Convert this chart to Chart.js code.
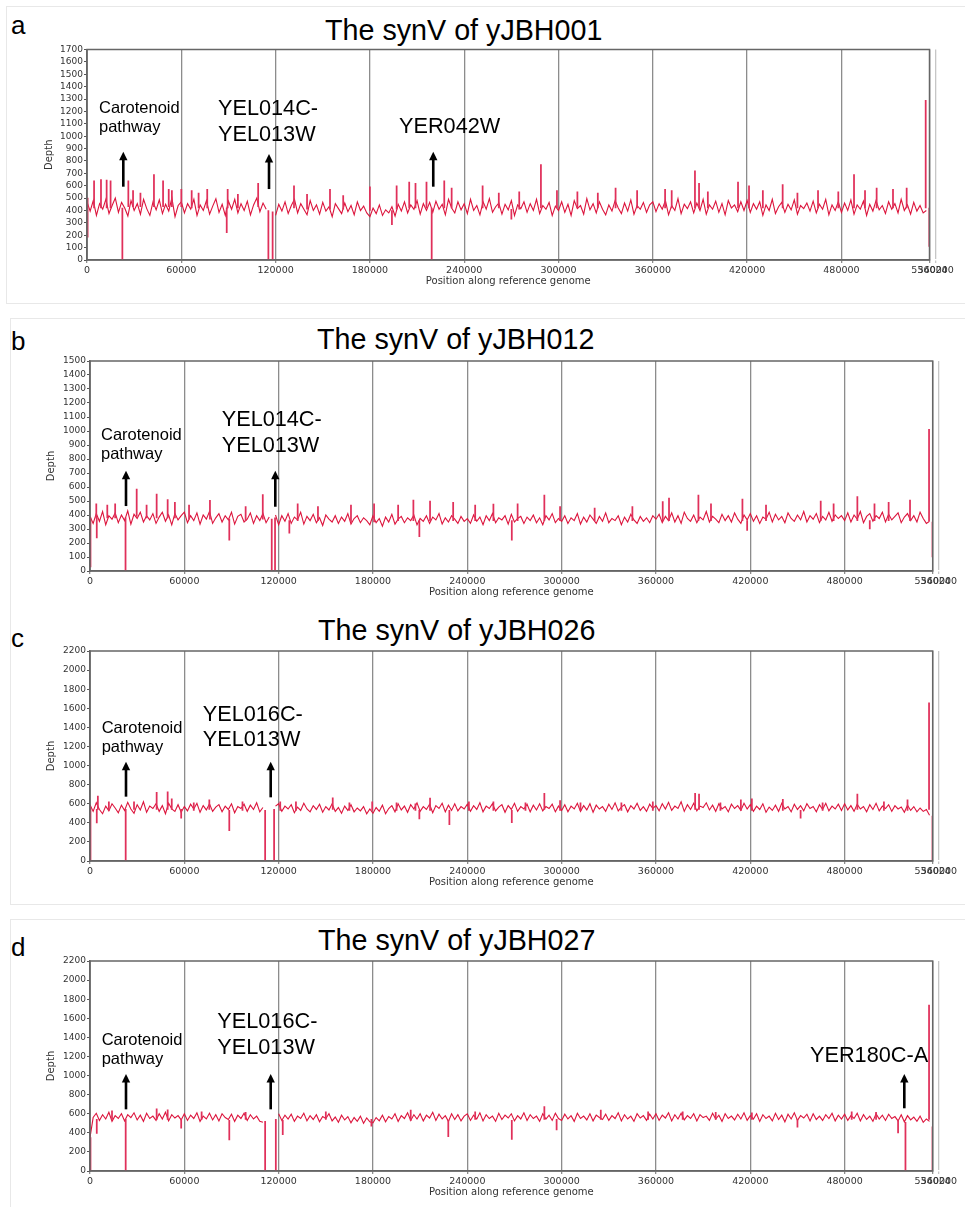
<!DOCTYPE html>
<html>
<head>
<meta charset="utf-8">
<script src="https://cdn.jsdelivr.net/npm/chart.js@4.4.1/dist/chart.umd.min.js"></script>
<style>
  body { margin: 0; background: #fff; width: 965px; height: 1207px; position: relative; overflow: hidden; font-family: 'Liberation Sans', Arial, sans-serif; }
  .box { position: absolute; border: 1px solid #e8e8e8; }
  .txt { position: absolute; line-height: 1; white-space: nowrap; color: #000; }
  .ttl { font-size: 28.7px; }
  .let { font-size: 26px; }
  canvas { position: absolute; left: 0; }
</style>
</head>
<body>
<div class="box" style="left:6px;top:6px;width:980px;height:296px"></div>
<div class="box" style="left:10px;top:318px;width:980px;height:585px"></div>
<div class="box" style="left:10px;top:919px;width:980px;height:300px"></div>

<div class="txt let" style="left:11px;top:12px">a</div>
<div class="txt let" style="left:11px;top:328px">b</div>
<div class="txt let" style="left:11px;top:625px">c</div>
<div class="txt let" style="left:11px;top:934px">d</div>

<div class="txt ttl" style="left:325px;top:16px">The synV of yJBH001</div>
<div class="txt ttl" style="left:317px;top:325px">The synV of yJBH012</div>
<div class="txt ttl" style="left:318px;top:616px">The synV of yJBH026</div>
<div class="txt ttl" style="left:318px;top:926px">The synV of yJBH027</div>

<canvas id="chartA" width="965" height="252" style="top:40px"></canvas>
<canvas id="chartB" width="965" height="252" style="top:351px"></canvas>
<canvas id="chartC" width="965" height="252" style="top:641px"></canvas>
<canvas id="chartD" width="965" height="252" style="top:951px"></canvas>

<script>
// depth read every 2000 bp along synV (null = deleted region), 30 values per 60 kb
const STEP = 2000;
const chrLen = 536024;
const xTicks = [0, 60000, 120000, 180000, 240000, 300000, 360000, 420000, 480000, 536024, 540000];

const depthA = [
  470,395,480,360,455,410,490,375,440,500,
  385,465,420,355,480,400,455,370,490,415,
  360,470,405,485,375,450,395,500,350,440,
  470,380,455,410,490,360,445,400,480,370,
  435,495,385,450,360,475,410,490,380,455,
  400,475,365,445,500,390,460,410,null,null,
  360,450,395,470,375,440,490,380,455,410,
  365,480,400,445,370,465,395,430,350,455,
  415,375,460,390,440,365,470,400,435,380,
  350,420,375,445,360,405,380,430,355,450,
  395,470,380,445,410,480,370,455,400,465,
  385,475,410,450,365,490,420,380,470,405,
  455,375,490,400,440,365,470,410,495,385,
  430,460,370,450,405,480,360,445,415,470,
  385,455,400,490,375,440,410,465,360,435,
  400,470,385,450,360,480,415,440,370,495,
  405,455,380,470,410,365,445,395,480,420,
  375,460,395,485,370,440,410,465,385,445,
  470,390,455,410,480,365,440,400,495,375,
  450,415,470,380,460,400,490,370,445,410,
  475,385,455,365,480,420,445,390,470,400,
  480,385,455,410,470,360,445,400,490,375,
  430,465,385,450,405,485,370,440,415,460,
  395,475,380,450,410,490,365,445,400,470,
  385,460,400,485,370,445,410,475,360,450,
  395,480,405,440,375,470,410,455,380,490,
  400,445,370,465,395,440,380,400
];
const depthB = [
  390,340,410,355,425,330,395,370,415,345,
  400,360,430,335,405,375,420,350,395,365,
  410,340,385,420,355,400,330,410,365,395,
  420,345,395,360,415,335,400,370,425,340,
  380,410,350,395,365,420,335,390,405,350,
  370,415,340,395,360,410,345,385,null,400,
  330,395,355,410,340,385,365,420,335,390,
  360,405,345,380,325,400,370,350,395,340,
  385,355,410,335,375,395,345,380,360,330,
  395,345,375,320,385,350,405,335,370,390,
  345,380,360,400,330,375,355,395,340,385,
  365,410,335,380,350,395,370,340,390,355,
  375,340,400,355,385,330,395,360,410,345,
  380,365,395,335,405,350,375,390,340,385,
  360,400,345,380,330,395,365,410,345,375,
  355,395,340,380,360,410,335,385,350,400,
  370,340,390,355,415,345,375,360,395,330,
  385,350,405,365,340,390,355,380,345,395,
  370,405,345,390,360,415,350,395,340,420,
  375,355,400,345,385,365,425,350,390,370,
  345,405,360,395,350,415,370,340,400,365,
  410,355,395,340,385,370,420,350,405,365,
  390,345,415,375,355,400,365,425,350,395,
  370,410,345,390,365,420,355,400,375,395,
  360,415,350,400,370,425,345,390,410,355,
  395,375,420,350,405,365,390,415,345,385,
  410,360,395,350,420,375,340,355
];
const depthC = [
  590,520,610,540,495,575,525,600,555,505,
  585,530,615,545,500,590,535,620,510,575,
  550,600,520,580,495,605,545,520,590,510,
  570,525,595,545,605,510,580,535,600,520,
  565,590,515,575,540,600,505,570,550,595,
  520,585,540,610,515,560,null,null,null,575,
  600,520,575,545,590,505,565,530,605,545,
  515,580,540,595,510,570,535,600,520,560,
  500,575,530,590,515,555,525,570,495,545,
  500,560,520,585,495,550,580,515,600,535,
  575,510,590,545,610,520,570,540,595,505,
  580,550,605,515,585,530,600,525,570,545,
  595,520,580,540,610,515,575,550,600,525,
  565,590,510,580,540,605,520,570,545,595,
  515,585,535,600,525,570,550,595,515,575,
  530,590,515,575,545,605,520,580,535,600,
  510,585,545,570,520,595,540,610,525,565,
  590,515,580,545,605,530,570,520,595,550,
  580,525,600,545,615,530,575,550,620,520,
  590,540,605,525,575,560,610,535,585,520,
  600,545,570,515,595,550,580,530,605,545,
  590,520,575,540,600,510,565,530,585,520,
  605,545,570,515,595,540,580,525,600,550,
  570,515,590,540,605,525,575,545,595,530,
  600,535,580,520,595,545,570,515,590,540,
  605,525,575,550,590,520,580,545,565,510,
  585,530,570,515,555,520,540,480
];
const depthD = [
  350,560,605,530,590,545,615,520,580,550,
  600,525,590,560,610,535,585,520,605,550,
  575,530,600,545,615,525,590,555,580,535,
  600,530,585,550,610,520,575,545,605,535,
  590,525,600,560,540,595,520,585,550,605,
  530,590,545,575,520,510,null,null,null,null,
  600,530,585,545,595,520,575,550,605,525,
  580,540,590,515,570,550,600,525,565,510,
  585,535,570,505,560,520,575,500,555,515,
  505,560,525,585,515,570,545,600,520,580,
  550,610,530,590,545,600,525,585,555,615,
  530,595,545,580,520,600,540,590,525,575,
  600,530,585,545,610,525,590,550,575,520,
  605,540,585,555,600,525,580,545,610,530,
  590,550,575,520,600,545,585,530,605,550,
  530,595,545,580,520,605,550,575,535,600,
  525,585,560,540,595,530,580,550,610,525,
  590,545,575,520,600,555,580,530,595,545,
  600,530,585,555,610,525,590,545,605,535,
  580,550,600,525,590,560,575,530,605,545,
  585,520,600,550,575,535,595,545,610,530,
  580,545,600,520,590,550,575,525,605,540,
  585,515,595,545,610,530,580,555,595,525,
  600,540,575,530,590,550,605,525,585,545,
  595,530,580,550,605,525,590,540,575,520,
  600,545,585,530,595,550,570,525,590,515,
  580,535,565,520,575,510,545,520
];

// narrow spikes and dips: [position, low depth, high depth]
const spikesA = [
  [400, 185, 500], [4500, 420, 640], [8900, 420, 650], [12500, 420, 645], [15000, 420, 640],
  [22500, 0, 420], [26300, 430, 640], [29300, 430, 560], [34000, 430, 540], [42600, 430, 690],
  [48400, 430, 640], [52000, 430, 570], [54000, 430, 560], [60000, 430, 570], [66600, 420, 560],
  [71000, 420, 540], [76500, 420, 570], [88900, 220, 420], [89500, 420, 570], [96000, 420, 530],
  [108900, 430, 620], [115400, 0, 400], [118100, 0, 390], [131700, 420, 600], [140000, 410, 530],
  [154600, 410, 570], [163000, 410, 520], [180000, 400, 590], [194000, 285, 400], [197000, 410, 600],
  [205000, 420, 630], [209000, 420, 620], [216000, 420, 630], [219300, 0, 420], [227300, 420, 640],
  [232000, 420, 580], [251700, 420, 600], [262000, 420, 540], [270000, 330, 410], [275000, 410, 550],
  [288800, 420, 770], [299000, 420, 560], [312000, 420, 550], [325000, 420, 540], [336300, 420, 580],
  [350000, 420, 560], [367800, 420, 570], [372000, 420, 560], [386800, 420, 720], [389400, 420, 620],
  [395000, 420, 550], [414200, 420, 630], [421200, 420, 600], [430000, 420, 560], [442600, 420, 610],
  [452000, 420, 540], [465100, 420, 560], [478000, 420, 550], [488000, 420, 690], [495000, 420, 560],
  [502400, 420, 580], [512800, 420, 570], [521500, 420, 580], [533600, 420, 1290], [535900, 110, 420]
];
const spikesB = [
  [300, 30, 380], [4000, 380, 480], [4300, 236, 380], [11000, 380, 470], [16000, 380, 480],
  [22600, 0, 380], [29700, 390, 585], [36000, 380, 470], [42400, 380, 550], [49400, 380, 510],
  [54000, 380, 490], [63000, 370, 470], [76300, 370, 505], [88600, 221, 370], [99000, 360, 460],
  [109900, 370, 545], [115600, 0, 370], [117700, 0, 380], [126800, 270, 360], [132100, 360, 480],
  [145000, 360, 460], [166000, 350, 470], [180700, 350, 480], [196000, 360, 470], [205700, 360, 507],
  [209500, 245, 360], [216300, 360, 500], [231000, 360, 490], [245000, 360, 470], [256600, 360, 478],
  [268300, 221, 360], [272000, 360, 480], [289000, 360, 543], [299000, 360, 460], [321000, 360, 450],
  [345000, 360, 460], [364300, 360, 495], [368300, 360, 520], [387000, 360, 543], [395000, 360, 480],
  [415000, 360, 514], [418000, 290, 360], [430000, 360, 470], [464800, 360, 500], [473000, 360, 480],
  [488100, 360, 531], [496000, 300, 360], [499000, 360, 480], [508000, 360, 490], [521600, 360, 507],
  [533700, 360, 1012], [535900, 100, 350]
];
const spikesC = [
  [300, 0, 560], [4300, 398, 540], [5000, 540, 681], [12000, 530, 620], [22700, 0, 540],
  [28000, 540, 620], [42400, 540, 720], [49400, 540, 725], [52000, 540, 650], [58000, 450, 540],
  [66000, 530, 610], [75900, 540, 640], [88600, 317, 530], [97000, 530, 620], [111400, 0, 530],
  [117100, 0, 540], [121000, 530, 620], [131000, 530, 620], [154400, 540, 663], [165000, 530, 610],
  [179500, 530, 620], [195000, 530, 610], [207000, 530, 600], [209500, 440, 530], [216300, 530, 660],
  [228600, 380, 530], [241000, 530, 620], [256600, 530, 620], [268300, 401, 530], [277000, 530, 610],
  [289000, 540, 709], [299000, 530, 632], [312000, 530, 610], [338000, 530, 610], [358000, 530, 620],
  [384900, 540, 709], [387400, 540, 700], [401000, 530, 610], [414000, 530, 640], [421000, 530, 650],
  [440700, 530, 646], [452000, 450, 530], [466000, 530, 610], [488100, 540, 702], [505000, 530, 620],
  [520000, 530, 640], [533700, 540, 1658], [535900, 0, 470]
];
const spikesD = [
  [300, 0, 350], [4300, 395, 540], [14000, 540, 630], [22700, 0, 540], [42400, 540, 650],
  [49400, 540, 640], [58000, 450, 540], [71000, 540, 620], [88600, 325, 530], [99000, 540, 615],
  [111400, 0, 520], [118200, 0, 540], [122600, 380, 530], [150000, 540, 620], [179000, 470, 540],
  [204000, 530, 639], [227900, 360, 530], [245000, 540, 620], [268300, 332, 530], [289000, 540, 674],
  [296800, 430, 540], [324900, 540, 639], [355000, 540, 620], [377000, 540, 620], [398000, 540, 615],
  [421000, 540, 610], [450000, 460, 540], [484500, 540, 620], [500000, 540, 615], [514000, 398, 530],
  [518700, 0, 510], [533700, 540, 1739], [535900, 0, 464]
];

// gene labels and arrows, in genome position / depth units
const labelsA = [
  {lines: ['Carotenoid', 'pathway'], x: 7630, y: 1190, big: false},
  {lines: ['YEL014C-', 'YEL013W'], x: 83340, y: 1171, big: true},
  {lines: ['YER042W'], x: 198500, y: 1023, big: true}
];
const arrowsA = [[23100, 592, 875], [115800, 573, 856], [220300, 592, 875]];
const labelsB = [
  {lines: ['Carotenoid', 'pathway'], x: 7000, y: 936, big: false},
  {lines: ['YEL014C-', 'YEL013W'], x: 83770, y: 1036, big: true}
];
const arrowsB = [[22900, 464, 716], [117870, 459, 716]];
const labelsC = [
  {lines: ['Carotenoid', 'pathway'], x: 7440, y: 1338, big: false},
  {lines: ['YEL016C-', 'YEL013W'], x: 71690, y: 1470, big: true}
];
const arrowsC = [[22900, 674, 1040], [114940, 667, 1040]];
const labelsD = [
  {lines: ['Carotenoid', 'pathway'], x: 7440, y: 1320, big: false},
  {lines: ['YEL016C-', 'YEL013W'], x: 80975, y: 1495, big: true},
  {lines: ['YER180C-A'], x: 457990, y: 1145, big: true}
];
const arrowsD = [[22900, 646, 1016], [114940, 646, 1016], [517970, 657, 1016]];

Chart.defaults.font.family = "'DejaVu Sans', sans-serif";
Chart.defaults.color = '#333';

function drawNotes(chart, labels, arrows) {
    const ctx = chart.ctx;
    const x = chart.scales.x, y = chart.scales.y;
    const area = chart.chartArea;
    ctx.save();
    // plot frame
    ctx.strokeStyle = '#666';
    ctx.lineWidth = 1.5;
    ctx.strokeRect(area.left, area.top, area.right - area.left, area.bottom - area.top);

    ctx.fillStyle = '#000';
    ctx.strokeStyle = '#000';
    ctx.textBaseline = 'alphabetic';
    labels.forEach(l => {
        let size = l.big ? 21.7 : 16.5;
        let lead = l.big ? 25.7 : 19;
        ctx.font = size + 'px "Liberation Sans", Arial, sans-serif';
        let px = x.getPixelForValue(l.x), py = y.getPixelForValue(l.y);
        l.lines.forEach((t, i) => ctx.fillText(t, px, py + i * lead));
    });
    arrows.forEach(a => {
        let px = x.getPixelForValue(a[0]);
        let yb = y.getPixelForValue(a[1]);
        let yt = y.getPixelForValue(a[2]);
        ctx.lineWidth = 2.6;
        ctx.beginPath();
        ctx.moveTo(px, yb);
        ctx.lineTo(px, yt + 6);
        ctx.stroke();
        ctx.beginPath();
        ctx.moveTo(px, yt);
        ctx.lineTo(px - 4.2, yt + 8.5);
        ctx.lineTo(px + 4.2, yt + 8.5);
        ctx.closePath();
        ctx.fill();
    });
    ctx.restore();
}

function depthChart(id, depth, spikes, yMax, yStep, labels, arrows, geo) {
    let line = depth.map((d, i) => ({x: i * STEP, y: d}));
    let needles = spikes.map(s => ({x: s[0], y: [s[1], s[2]]}));

    return new Chart(document.getElementById(id), {
        type: 'line',
        data: {
            datasets: [
                {type: 'bar', data: needles, backgroundColor: '#e0305a', barThickness: 1.1},
                {data: line, borderColor: 'rgb(220, 20, 60)', borderWidth: 1.1, pointRadius: 0, spanGaps: false, tension: 0}
            ]
        },
        options: {
            responsive: false,
            animation: false,
            events: [],
            layout: {padding: {top: geo.padTop, right: geo.padRight, left: 0, bottom: 0}},
            plugins: {legend: {display: false}, tooltip: {enabled: false}},
            scales: {
                x: {
                    type: 'linear',
                    min: 0,
                    max: chrLen,
                    offset: false,
                    afterBuildTicks: axis => { axis.ticks = xTicks.map(v => ({value: v})); },
                    afterFit: axis => { axis.height = 32; },
                    ticks: {autoSkip: false, maxRotation: 0, padding: 2, font: {size: 9.5}, callback: v => String(v)},
                    grid: {
                        offset: false,
                        color: c => (c.tick && c.tick.value === 540000) ? '#c6c6c6' : '#8c8c8c',
                        lineWidth: 1.3,
                        tickLength: 3
                    },
                    border: {color: '#666', width: 1.5},
                    title: {display: true, text: 'Position along reference genome', font: {size: 10}, padding: {top: 0, bottom: 5}}
                },
                y: {
                    min: 0,
                    max: yMax,
                    afterFit: axis => { axis.width = geo.yWidth; },
                    ticks: {stepSize: yStep, autoSkip: false, maxTicksLimit: 40, padding: 1, font: {size: 9, lineHeight: 1}, callback: v => String(v)},
                    grid: {drawOnChartArea: false, tickLength: 3, color: '#555'},
                    border: {color: '#666', width: 1.5},
                    title: {display: true, text: 'Depth', font: {size: 10}, padding: {top: geo.yTitlePad, bottom: 0}}
                }
            }
        },
        plugins: [{id: 'notes', afterDatasetsDraw: c => drawNotes(c, labels, arrows)}]
    });
}

const geoA = {padTop: 9.5, padRight: 35.5, yWidth: 87, yTitlePad: 43};
const geoB = {padTop: 10, padRight: 32.3, yWidth: 90, yTitlePad: 45};

depthChart('chartA', depthA, spikesA, 1700, 100, labelsA, arrowsA, geoA);
depthChart('chartB', depthB, spikesB, 1500, 100, labelsB, arrowsB, geoB);
depthChart('chartC', depthC, spikesC, 2200, 200, labelsC, arrowsC, geoB);
depthChart('chartD', depthD, spikesD, 2200, 200, labelsD, arrowsD, geoB);
</script>
</body>
</html>
